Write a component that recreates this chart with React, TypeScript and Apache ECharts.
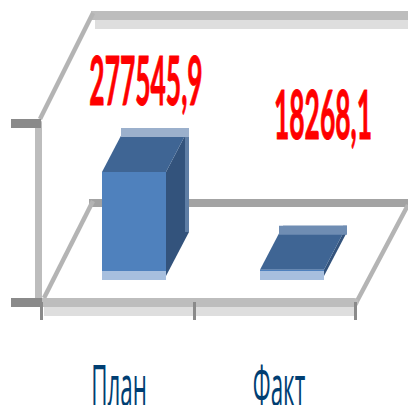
import React, { useEffect, useRef } from "react";
import * as echarts from "echarts";

const categories = ["План", "Факт"];
const planFact = [277545.9, 18268.1];
const valueLabels = ["277545,9", "18268,1"];

const AXIS_MIN = 15000;
const AXIS_MAX = 490000;

// Decorative placement of hand-positioned labels (as in the original slide)
const valueLabelX = [146, 323];
const valueLabelY = [79, 113];
const categoryLabelX = [119, 279];
const stripColors = ["#9bb0cc", "#6f8db3"];

const FLOOR_GREY = "#bdbdbd";
const LIGHT_GREY = "#dedede";
const DARK_GREY = "#8a8a8a";

function frame(): any[] {
  const rect = (x: number, y: number, width: number, height: number, fill: string, z = 0) => ({
    type: "rect",
    z,
    silent: true,
    shape: { x, y, width, height },
    style: { fill },
  });
  const diag = (x1: number, y1: number, x2: number, y2: number) => ({
    type: "line",
    z: 0,
    silent: true,
    shape: { x1, y1, x2, y2 },
    style: { stroke: "#b4b4b4", lineWidth: 4.5 },
  });
  return [
    rect(91, 11, 317, 9, FLOOR_GREY),
    rect(95, 20, 313, 9, LIGHT_GREY),
    rect(89, 199, 319, 8, "#a3a3a3"),
    rect(44, 307, 311, 9, LIGHT_GREY),
    diag(40, 119, 93, 13),
    diag(44, 298, 93, 201),
    diag(356, 303, 408, 205),
    rect(11, 119, 30, 9, DARK_GREY, 5),
    rect(11, 298, 31, 9, DARK_GREY, 5),
    rect(40, 302, 3, 18, DARK_GREY, 5),
    rect(193, 302, 3, 18, DARK_GREY, 5),
    rect(354, 302, 3, 18, DARK_GREY, 5),
  ];
}

function renderBar(params: any, api: any) {
  const i = api.value(0) as number;
  const v = api.value(1) as number;
  const center = api.coord([i, AXIS_MIN]);
  const top = api.coord([i, v]);
  const depthShiftX = 17;
  const depthShiftY = 31;
  const w = 64;
  const dx = 23;
  const dy = 44;
  const x0 = center[0] + depthShiftX - w / 2;
  const x1 = x0 + w;
  const yBase = center[1] - depthShiftY;
  const yTop = top[1] - depthShiftY;
  const poly = (points: number[][], fill: string) => ({
    type: "polygon",
    shape: { points },
    style: { fill },
  });
  const rect = (x: number, y: number, width: number, height: number, fill: string) => ({
    type: "rect",
    shape: { x, y, width, height },
    style: { fill },
  });
  return {
    type: "group",
    children: [
      rect(x0, yBase, w, 9, "#a7bfde"),
      poly(
        [
          [x1, yTop],
          [x1 + dx, yTop - dy],
          [x1 + dx, yBase + 5 - dy],
          [x1, yBase + 5],
        ],
        "#33537c"
      ),
      rect(x1 + dx - 4, yTop - dy, 4, yBase + 5 - yTop, "#5f7ea5"),
      poly(
        [
          [x0, yTop],
          [x0 + dx, yTop - dy],
          [x1 + dx, yTop - dy],
          [x1, yTop],
        ],
        "#3f6594"
      ),
      rect(x0 + dx - 4, yTop - dy, w + 4, 9, stripColors[i]),
      rect(x0, yTop, w, yBase - yTop, "#4f81bd"),
      {
        type: "text",
        x: valueLabelX[i],
        y: valueLabelY[i],
        scaleX: 0.4,
        style: {
          text: valueLabels[i],
          fontFamily: "Lato",
          fontWeight: "bold",
          fontSize: 66,
          fill: "#ff0000",
          stroke: "#ff0000",
          lineWidth: 1,
          align: "center",
          verticalAlign: "middle",
        },
      },
      {
        type: "text",
        x: categoryLabelX[i],
        y: 384,
        scaleX: 0.4,
        style: {
          text: categories[i],
          fontFamily: "Open Sans",
          fontSize: 56,
          fill: "#003e72",
          align: "center",
          verticalAlign: "middle",
        },
      },
    ],
  };
}

export default function App() {
  const ref = useRef<HTMLDivElement>(null);
  useEffect(() => {
    const chart = echarts.init(ref.current!, undefined, { renderer: "svg" });
    chart.setOption({
      animation: false,
      backgroundColor: "#ffffff",
      grid: { left: 38, top: 123, width: 316, height: 179 },
      xAxis: {
        type: "category",
        data: categories,
        axisLine: { lineStyle: { color: FLOOR_GREY, width: 9 } },
        axisTick: { show: false },
        axisLabel: { show: false },
      },
      yAxis: {
        type: "value",
        min: AXIS_MIN,
        max: AXIS_MAX,
        splitLine: { show: false },
        axisLine: { show: true, lineStyle: { color: FLOOR_GREY, width: 7 } },
        axisTick: { show: false },
        axisLabel: { show: false },
      },
      graphic: { elements: frame() },
      series: [
        {
          type: "custom",
          clip: false,
          encode: { x: 0, y: 1 },
          data: planFact.map((v, i) => [i, v]),
          renderItem: renderBar,
        },
      ],
    });
    return () => chart.dispose();
  }, []);
  return (
    <div
      ref={ref}
      style={{ position: "fixed", left: 0, top: 0, width: 408, height: 405 }}
    />
  );
}
